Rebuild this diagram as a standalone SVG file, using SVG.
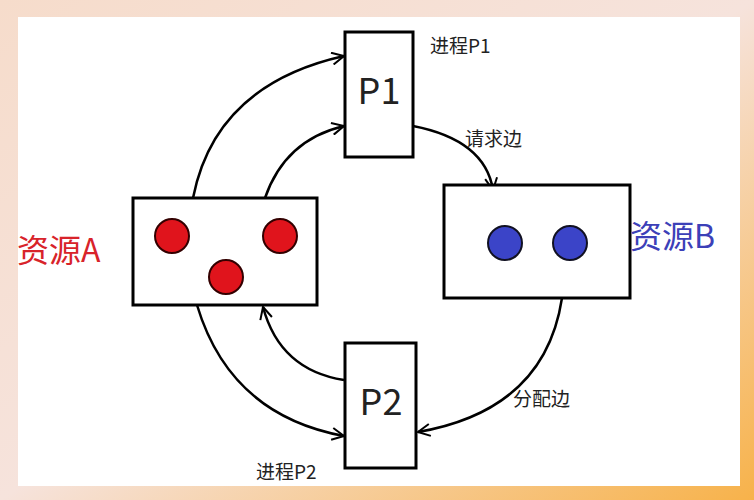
<svg xmlns="http://www.w3.org/2000/svg" width="754" height="500" viewBox="0 0 754 500">
<defs>
<linearGradient id="bg" x1="0" y1="0" x2="1" y2="1">
<stop offset="0" stop-color="#f6dccb"/><stop offset="0.5" stop-color="#f6e3dc"/><stop offset="1" stop-color="#f7b24a"/>
</linearGradient>
<marker id="ah" viewBox="0 0 14 14" refX="13" refY="7" markerWidth="14" markerHeight="14" markerUnits="userSpaceOnUse" orient="auto">
<path d="M1,1 L13,7 L1,13" fill="none" stroke="#000" stroke-width="2"/>
</marker>
<style>
.box{fill:#fff;stroke:#000;stroke-width:3}
.edge{fill:none;stroke:#000;stroke-width:2.5;marker-end:url(#ah)}
.t{font-family:"Noto Sans CJK SC","Noto Sans",sans-serif;fill:#222}
.red{fill:#e0141c;stroke:#300;stroke-width:2}
.blue{fill:#3b44c8;stroke:#112;stroke-width:2}
</style>
</defs>
<rect width="754" height="500" fill="url(#bg)"/>
<rect x="18" y="17" width="722" height="469" fill="#fff"/>
<g id="connectors">
<path class="edge" d="M193,198 Q215,85 344,56"/>
<path class="edge" d="M265,198 Q285,140 344,126"/>
<path class="edge" d="M413,126 Q485,140 493,190"/>
<path class="edge" d="M562,298 Q545,410 418,432"/>
<path class="edge" d="M344,380 Q280,370 263,307"/>
<path class="edge" d="M197,305 Q230,415 344,436"/>
</g>
<g id="P1"><rect class="box" x="345" y="32" width="68" height="125"/><text class="t" x="379" y="104" font-size="36" text-anchor="middle">P1</text><text class="t" x="430" y="53" font-size="19">进程P1</text></g>
<g id="P2"><rect class="box" x="345" y="343" width="71" height="125"/><text class="t" x="381" y="415" font-size="36" text-anchor="middle">P2</text><text class="t" x="256" y="479" font-size="19">进程P2</text></g>
<g id="resA"><rect class="box" x="133" y="198" width="184" height="107"/>
<circle class="red" cx="172" cy="236" r="17"/><circle class="red" cx="280" cy="236" r="17"/><circle class="red" cx="226" cy="277" r="17"/>
<text x="17" y="262" font-size="32" fill="#d8232a" font-family="Noto Sans CJK SC, sans-serif">资源A</text></g>
<g id="resB"><rect class="box" x="444" y="185" width="186" height="113"/>
<circle class="blue" cx="505" cy="243" r="17"/><circle class="blue" cx="570" cy="243" r="17"/>
<text x="630" y="248" font-size="32" fill="#3c40b8" font-family="Noto Sans CJK SC, sans-serif">资源B</text></g>
<text class="t" x="465" y="146" font-size="19">请求边</text>
<text class="t" x="513" y="406" font-size="19">分配边</text>
</svg>
